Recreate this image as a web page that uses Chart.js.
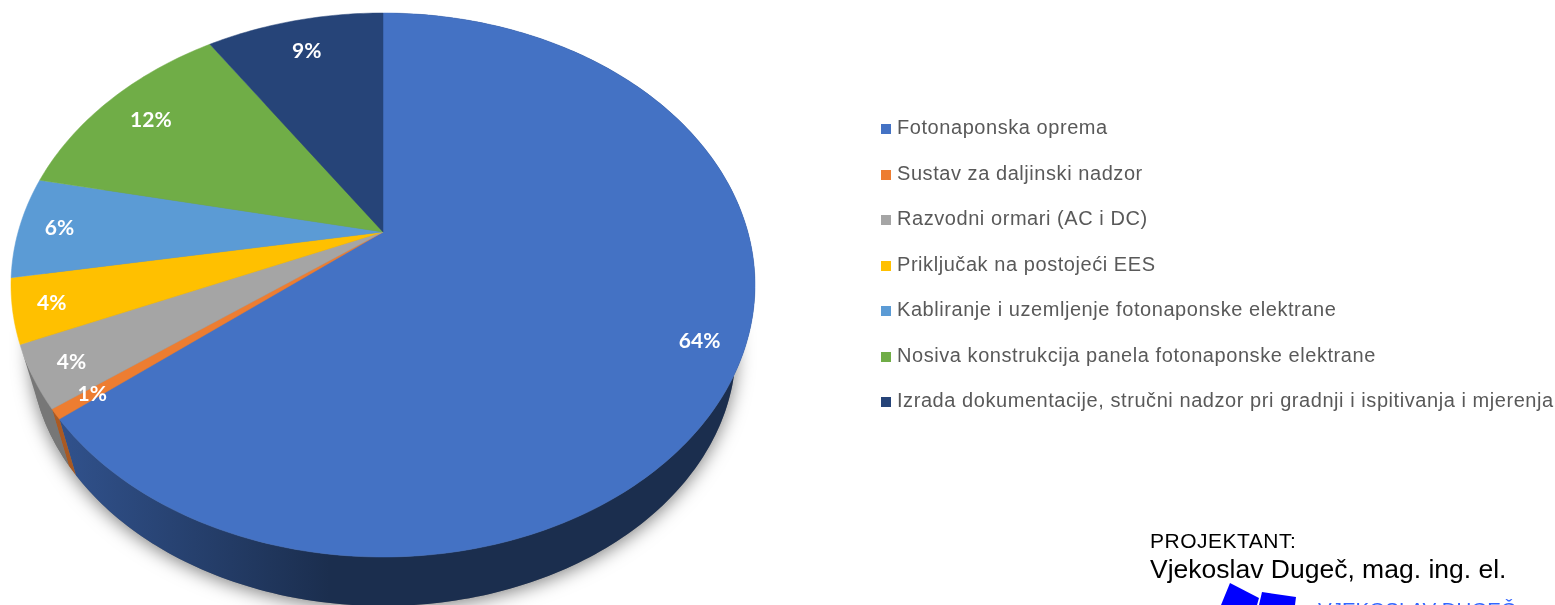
<!DOCTYPE html>
<html>
<head>
<meta charset="utf-8">
<title>Struktura troškova</title>
<script src="https://cdn.jsdelivr.net/npm/chart.js@4"></script>
<style>
  html, body { margin: 0; padding: 0; background: #fff; overflow: hidden; }
  #wrap { position: relative; width: 1555px; height: 605px; overflow: hidden; font-family: "Liberation Sans", Arial, sans-serif; }
  canvas { position: absolute; left: 0; top: 0; }
  #legend { position: absolute; left: 881px; top: 105px; margin: 0; padding: 0; list-style: none; }
  #legend li { height: 45.5px; line-height: 45.5px; white-space: nowrap; color: #595959; font-size: 20px; letter-spacing: 0.56px; }
  #legend span { display: inline-block; width: 10px; height: 10px; margin-right: 6px; }
  .note { position: absolute; white-space: nowrap; color: #000; }
  #stamp { position: absolute; left: 0; top: 0; }
</style>
</head>
<body>
<div id="wrap">
  <canvas id="costChart" width="1555" height="605"></canvas>
  <ul id="legend"></ul>
  <div class="note" style="left:1150px; top:529px; font-size:21px; letter-spacing:0.5px;">PROJEKTANT:</div>
  <div class="note" style="left:1150px; top:554px; font-size:26.5px;">Vjekoslav Dugeč, mag. ing. el.</div>
  <svg id="stamp" width="1555" height="605">
    <polygon points="1230,583 1259,598 1257,605 1221,605" fill="#0000ff"/>
    <polygon points="1262,592 1296,597 1295,605 1259,605" fill="#0000ff"/>
  </svg>
  <div class="note" style="left:1318px; top:598px; font-size:20.5px; color:#3366ff;">VJEKOSLAV DUGEČ</div>
</div>
<script>
const categories = [
  'Fotonaponska oprema',
  'Sustav za daljinski nadzor',
  'Razvodni ormari (AC i DC)',
  'Priključak na postojeći EES',
  'Kabliranje i uzemljenje fotonaponske elektrane',
  'Nosiva konstrukcija panela fotonaponske elektrane',
  'Izrada dokumentacije, stručni nadzor pri gradnji i ispitivanja i mjerenja'
];
// slice sizes, the labels show them rounded
const shares = [64.2, 0.6, 3.7, 3.8, 6, 12.4, 9.3];
const colors = ['#4472c4', '#ed7d31', '#a5a5a5', '#ffc000', '#5b9bd5', '#70ad47', '#264478'];

// where the labels sit between centre and rim
const labelRadius = [0.89, 0.9, 0.9, 0.9, 0.89, 0.84, 0.84];

// tilted pie: top face and lower rim ellipses, apex is off-centre because of perspective
const topFace = {x: 383, y: 285, rx: 372, ry: 272};
const lowRim = {x: 383, y: 348, rx: 353, ry: 258};
const tilt = -0.195;

function project(angle, f) {
  const u = f * Math.cos(angle);
  const v = f * Math.sin(angle);
  const d = 1 + tilt * v;
  return {u: u * Math.sqrt(1 - tilt * tilt) / d, v: (v + tilt) / d};
}

function onEllipse(e, p) {
  return {x: e.x + e.rx * p.u, y: e.y + e.ry * p.v};
}

function rimPoints(arc) {
  const {startAngle, endAngle} = arc.getProps(['startAngle', 'endAngle'], true);
  const steps = Math.max(2, Math.ceil((endAngle - startAngle) * 60));
  const pts = [];
  for (let i = 0; i <= steps; i++) {
    pts.push(project(startAngle + (endAngle - startAngle) * i / steps, 1));
  }
  return pts;
}

function shade(hex, k) {
  const n = parseInt(hex.slice(1), 16);
  return `rgb(${(n >> 16) * k},${((n >> 8) & 255) * k},${(n & 255) * k})`;
}

const tiltedPie = {
  id: 'tiltedPie',
  beforeDatasetDraw(chart, args) {
    const ctx = chart.ctx;
    const arcs = args.meta.data;
    ctx.save();

    // soft shadow under the lower rim
    ctx.save();
    ctx.shadowColor = 'rgba(0,0,0,0.5)';
    ctx.shadowBlur = 18;
    ctx.shadowOffsetY = 3;
    ctx.fillStyle = shade(colors[2], 0.72);
    ctx.beginPath();
    ctx.ellipse(lowRim.x, lowRim.y, lowRim.rx, lowRim.ry, 0, 0, Math.PI * 2);
    ctx.fill();
    ctx.restore();

    // side walls, only the slices that reach the front of the pie have one
    arcs.forEach((arc, i) => {
      const pts = rimPoints(arc);
      if (Math.max(...pts.map(p => p.v)) < 0.25) return;
      const grad = ctx.createLinearGradient(57, 0, 330, 0);
      grad.addColorStop(0, shade(colors[i], 0.72));
      grad.addColorStop(1, shade(colors[i], 0.4));
      ctx.fillStyle = grad;
      ctx.beginPath();
      pts.forEach((p, j) => {
        const q = onEllipse(topFace, p);
        if (j === 0) ctx.moveTo(q.x, q.y); else ctx.lineTo(q.x, q.y);
      });
      pts.slice().reverse().forEach(p => {
        const q = onEllipse(lowRim, p);
        ctx.lineTo(q.x, q.y);
      });
      ctx.closePath();
      ctx.fill();
    });

    // top face
    arcs.forEach((arc, i) => {
      const apex = onEllipse(topFace, project(0, 0));
      ctx.fillStyle = colors[i];
      ctx.strokeStyle = colors[i];
      ctx.lineWidth = 0.5;
      ctx.beginPath();
      ctx.moveTo(apex.x, apex.y);
      rimPoints(arc).forEach(p => {
        const q = onEllipse(topFace, p);
        ctx.lineTo(q.x, q.y);
      });
      ctx.closePath();
      ctx.fill();
      ctx.stroke();
    });

    // percentage labels
    ctx.fillStyle = '#fff';
    ctx.font = 'bold 21px Lato';
    ctx.textAlign = 'center';
    ctx.textBaseline = 'middle';
    arcs.forEach((arc, i) => {
      const {startAngle, endAngle} = arc.getProps(['startAngle', 'endAngle'], true);
      const q = onEllipse(topFace, project((startAngle + endAngle) / 2, labelRadius[i]));
      ctx.fillText(Math.round(shares[i]) + '%', q.x, q.y + 1);
    });

    ctx.restore();
    return false;
  }
};

const chart = new Chart(document.getElementById('costChart'), {
  type: 'pie',
  data: {
    labels: categories,
    datasets: [{
      data: shares,
      backgroundColor: colors,
      borderWidth: 0
    }]
  },
  plugins: [tiltedPie],
  options: {
    responsive: false,
    animation: false,
    plugins: {
      legend: { display: false },
      tooltip: { enabled: false }
    }
  }
});

// html legend, built from the chart's own legend items
const legendEl = document.getElementById('legend');
Chart.overrides.pie.plugins.legend.labels.generateLabels(chart).forEach(item => {
  const li = document.createElement('li');
  const box = document.createElement('span');
  box.style.background = item.fillStyle;
  li.appendChild(box);
  li.appendChild(document.createTextNode(item.text));
  legendEl.appendChild(li);
});
</script>
</body>
</html>
